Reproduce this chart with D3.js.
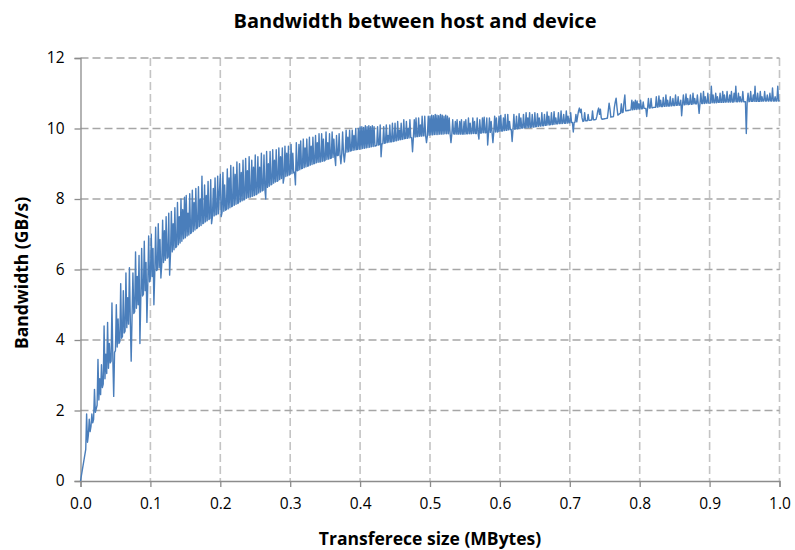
<!DOCTYPE html>
<html><head><meta charset="utf-8">
<script src="https://cdn.jsdelivr.net/npm/d3@7/dist/d3.min.js"></script>
<style>
html,body{margin:0;padding:0;background:#fff;}
svg{display:block;}
text{font-family:"Open Sans","Liberation Sans",sans-serif;fill:#000;}
</style></head><body>
<svg id="chart" width="795" height="550"></svg>
<script>
const title = "Bandwidth between host and device";
const xLabel = "Transferece size (MBytes)";
const yLabel = "Bandwidth (GB/s)";
const xTicks = [0,0.1,0.2,0.3,0.4,0.5,0.6,0.7,0.8,0.9,1.0];
const yTicks = [0,2,4,6,8,10,12];
const xStep = 0.00125; // sampling step of transfer size (MB)
// measured bandwidth (GB/s), one value per sample starting at 0 MB; one row = 0.05 MB
const bandwidth = [
 0,0.15,0.3,0.45,0.6,0.75,0.9,1.9,1.1,1.3,1.75,1.4,1.55,1.9,1.65,1.75,2.6,1.95,2.05,2.15,3.45,2.3,2.9,2.45,3.3,2.65,2.75,4.4,2.9,3.6,3.05,4.5,3.2,3.9,3.35,3.4,5.05,3.5,2.4,3.65,
 3.7,5.0,3.8,4.6,3.9,3.95,5.6,4.05,4.1,5.4,4.2,4.25,5.9,4.35,5.2,4.45,6.05,4.55,3.4,4.65,5.9,4.75,4.8,6.5,4.9,5.8,5.0,6.4,3.9,5.15,6.6,5.25,5.3,6.8,5.4,6.2,4.5,5.55,6.95,5.65,
 5.75,7.0,5.8,6.6,5.0,5.9,7.2,5.97,6.0,7.3,6.05,6.85,5.76,6.15,7.4,6.2,7.1,6.26,7.5,6.32,6.35,7.6,5.84,6.45,7.65,6.5,7.3,6.56,7.75,6.62,6.65,7.9,6.7,7.5,6.75,8.0,6.8,7.7,6.87,8.05,
 6.9,8.1,6.95,7.6,6.98,8.15,7.02,7.05,8.25,7.08,7.9,7.12,8.3,7.16,7.19,8.35,7.22,8.0,7.25,8.65,7.3,7.32,8.4,7.35,8.1,7.38,8.5,7.42,7.45,8.55,7.3,7.5,8.3,7.52,8.6,7.55,7.57,8.65,7.58,8.2,
 8.7,7.5,7.62,8.75,7.65,8.4,7.68,7.7,8.85,7.72,8.6,7.75,8.95,7.78,7.8,8.9,7.82,8.7,7.85,9.05,7.87,7.9,9.0,7.92,8.75,7.95,9.1,7.97,8.0,9.15,8.02,8.8,8.04,9.2,8.05,8.07,9.1,8.08,8.9,8.1,
 9.25,8.12,8.14,9.2,8.17,8.9,8.2,9.3,8.23,8.25,9.25,8.28,8.0,9.35,8.33,9.0,8.36,9.35,8.4,8.42,9.4,8.45,9.1,8.48,9.4,8.5,8.52,9.45,8.55,9.2,8.58,9.45,8.45,8.62,9.5,8.64,9.3,8.66,9.5,8.68,
 8.7,9.55,8.72,9.3,8.74,8.76,8.4,9.6,8.8,8.81,9.55,8.83,9.65,8.86,8.87,9.7,8.89,9.45,8.91,9.7,8.93,8.94,9.75,8.96,9.5,8.98,9.75,9.0,9.01,9.8,9.03,9.6,9.04,9.85,9.05,9.06,9.85,9.07,9.7,9.08,
 9.1,9.9,9.12,9.6,9.13,9.85,9.15,9.16,9.9,9.18,9.7,9.2,8.95,9.8,9.23,9.24,9.85,9.26,9.0,9.28,9.9,9.3,9.05,9.31,9.95,9.33,9.75,9.34,9.95,9.36,9.37,9.95,9.38,9.8,9.39,10.0,9.4,9.41,10.0,9.41,
 10.05,9.42,10.05,9.43,10.03,9.44,10.08,9.45,10.05,9.46,10.08,9.47,10.05,9.48,10.08,9.49,10.05,9.5,9.51,9.52,10.05,9.53,9.54,10.1,9.2,9.56,9.57,10.05,9.58,9.59,10.1,9.6,9.8,9.61,10.1,9.62,9.62,10.15,9.63,9.64,
 10.15,9.65,9.66,10.2,9.67,9.95,9.68,10.15,9.69,9.7,10.25,9.71,9.72,10.2,9.72,10.0,9.73,10.25,9.74,9.74,9.34,9.75,10.25,9.76,10.3,9.77,9.77,10.3,9.78,10.1,9.78,10.35,9.79,9.79,10.35,9.8,9.6,9.8,10.35,9.81,
 10.35,9.82,10.38,9.82,10.36,9.83,10.4,9.83,10.38,9.83,10.36,9.84,10.4,9.84,10.38,9.84,10.35,9.85,10.38,9.85,10.35,9.85,10.3,9.85,9.6,9.85,10.25,9.85,9.84,10.2,9.84,10.25,9.84,9.84,10.2,9.84,10.25,9.84,9.84,10.2,
 9.84,10.25,9.85,9.85,10.3,9.85,10.15,9.85,9.86,10.3,9.86,10.2,9.86,9.86,10.3,9.87,9.7,10.25,9.87,9.87,10.3,9.88,10.32,9.88,9.88,10.3,9.53,9.88,10.3,9.89,10.2,9.89,9.6,9.9,10.35,9.9,10.3,9.9,9.91,10.35,
 9.92,10.38,9.93,9.93,10.3,9.94,10.4,9.95,9.95,10.4,9.96,10.2,9.97,9.97,9.63,9.98,10.4,9.98,9.99,10.35,9.99,10.0,10.42,10.0,10.3,10.01,10.01,10.4,10.02,10.02,10.45,10.02,10.3,10.03,10.45,10.03,10.04,10.4,10.04,10.04,
 10.45,10.05,10.06,10.42,10.06,10.3,10.07,10.07,10.45,10.08,10.08,10.4,10.09,10.09,10.47,10.1,10.35,10.1,10.11,10.45,10.11,10.12,10.48,10.12,10.3,10.13,10.13,10.45,10.14,10.14,10.5,10.14,10.15,10.4,10.15,10.15,10.5,10.15,10.35,10.16,
 10.16,10.45,10.17,10.17,9.9,10.17,10.18,10.4,10.19,10.35,10.5,10.58,10.45,10.55,10.3,10.2,10.21,10.45,10.22,10.22,10.22,10.4,10.23,10.23,10.24,10.24,10.5,10.25,10.25,10.25,10.26,10.35,10.5,10.58,10.4,10.55,10.3,10.26,10.27,10.27,
 10.28,10.28,10.29,10.29,10.5,10.72,10.55,10.32,10.33,10.33,10.34,10.6,10.75,10.86,10.6,10.38,10.4,10.42,10.43,10.7,10.45,10.46,10.75,10.95,10.5,10.5,10.51,10.51,10.52,10.52,10.53,10.8,10.53,10.75,10.54,10.8,10.54,10.78,10.55,10.7,
 10.55,10.8,10.56,10.56,10.75,10.57,10.57,10.57,10.34,10.58,10.85,10.58,10.58,10.85,10.59,10.59,10.6,10.6,10.6,10.9,10.61,10.61,10.92,10.62,10.8,10.62,10.62,10.88,10.63,10.63,10.95,10.63,10.8,10.64,10.64,10.9,10.64,10.65,10.85,10.65,
 10.65,10.95,10.66,10.66,10.9,10.66,10.67,10.8,10.36,10.67,10.95,10.67,10.68,10.98,10.68,10.85,10.68,10.69,10.95,10.69,10.69,11.0,10.7,10.85,10.7,10.7,10.95,10.7,10.43,10.71,11.0,10.71,10.71,11.05,10.71,10.9,10.72,10.72,11.0,10.72,
 10.72,10.72,11.2,10.73,10.95,10.73,10.73,11.0,10.73,10.9,10.74,10.74,11.0,10.74,10.74,11.05,10.74,10.95,10.75,10.75,11.05,10.75,10.75,10.95,10.75,11.05,10.75,10.75,11.0,10.76,11.2,10.76,10.76,11.0,10.76,10.9,10.76,10.76,11.05,10.76,
 10.76,10.76,9.86,10.76,11.0,10.76,10.77,11.05,10.77,10.77,10.95,10.77,11.2,10.77,10.77,11.0,10.77,10.77,11.05,10.77,10.9,10.78,10.78,11.05,10.78,10.78,10.95,10.78,10.78,11.0,10.78,10.78,11.15,10.78,10.78,10.9,10.78,10.78,11.2,10.78,
 10.8
];

const svg = d3.select("#chart");
const m = {left:80.5, right:779.5, top:58, bottom:481};
const x = d3.scaleLinear().domain([0,1]).range([m.left, m.right]);
const y = d3.scaleLinear().domain([0,12]).range([m.bottom, m.top]);

// gridlines
svg.append("g").selectAll("line").data(xTicks.slice(1)).join("line")
  .attr("x1", d=>x(d)).attr("x2", d=>x(d)).attr("y1", m.top).attr("y2", m.bottom)
  .attr("stroke", "#c4c4c4").attr("stroke-width", 1.6).attr("stroke-dasharray", "8,4");
svg.append("g").selectAll("line").data(yTicks.slice(1)).join("line")
  .attr("x1", m.left).attr("x2", m.right).attr("y1", d=>y(d)).attr("y2", d=>y(d))
  .attr("stroke", "#a6a6a6").attr("stroke-width", 1.6).attr("stroke-dasharray", "8,4");

// axes
const xAxis = d3.axisBottom(x).tickValues(xTicks).tickFormat(d3.format(".1f")).tickSize(6).tickPadding(8);
const yAxis = d3.axisLeft(y).tickValues(yTicks).tickFormat(d3.format("d")).tickSize(6).tickPadding(10);
const gx = svg.append("g").attr("transform", `translate(0,${m.bottom})`).call(xAxis);
const gy = svg.append("g").attr("transform", `translate(${m.left},0)`).call(yAxis);
[gx, gy].forEach(g => {
  g.attr("font-family", null);
  g.select(".domain").attr("stroke", "#8c8c8c").attr("stroke-width", 1.3);
  g.selectAll(".tick line").attr("stroke", "#8c8c8c").attr("stroke-width", 1.3);
  g.selectAll(".tick text").style("font-size", "15.5px").attr("fill", "#000");
});
gx.selectAll(".tick text").attr("dy", "0.9em");

// data line
const pts = bandwidth.map((v,i)=>[i*xStep, v]);
svg.append("path").datum(pts)
  .attr("fill", "none").attr("stroke", "#4a7ebb").attr("stroke-width", 1.4)
  .attr("stroke-linejoin", "round")
  .attr("d", d3.line().x(d=>x(d[0])).y(d=>y(d[1])));

// titles
svg.append("text").attr("x", 415).attr("y", 28).attr("text-anchor", "middle")
  .style("font-size", "20px").style("font-weight", "bold").text(title);
svg.append("text").attr("x", 430).attr("y", 545).attr("text-anchor", "middle")
  .style("font-size", "17.5px").style("font-weight", "bold").text(xLabel);
svg.append("text").attr("transform", "translate(28,273) rotate(-90)").attr("text-anchor", "middle")
  .style("font-size", "17.5px").style("font-weight", "bold").text(yLabel);
</script>
</body></html>
